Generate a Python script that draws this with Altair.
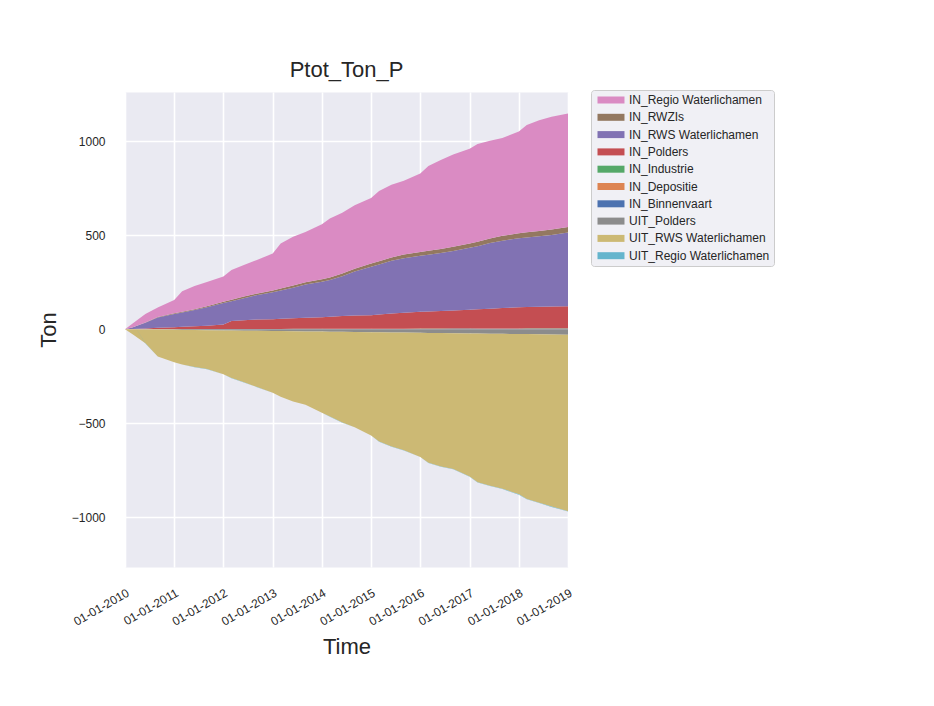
import altair as alt
import pandas as pd

dates = [
    "2010-01-01", "2010-03-01", "2010-06-01", "2010-09-01",
    "2011-01-01", "2011-03-01", "2011-06-01", "2011-09-01",
    "2012-01-01", "2012-03-01", "2012-06-01", "2012-09-01",
    "2013-01-01", "2013-03-01", "2013-06-01", "2013-09-01",
    "2014-01-01", "2014-03-01", "2014-06-01", "2014-09-01",
    "2015-01-01", "2015-03-01", "2015-06-01", "2015-09-01",
    "2016-01-01", "2016-03-01", "2016-06-01", "2016-09-01",
    "2017-01-01", "2017-03-01", "2017-06-01", "2017-09-01",
    "2018-01-01", "2018-03-01", "2018-06-01", "2018-09-01",
    "2019-01-01",
]

in_binnenvaart = [0, 0.0, 0.1, 0.2, 0.3, 0.3, 0.4, 0.5, 0.6, 0.6, 0.7, 0.7, 0.8, 0.9, 0.9, 1.0, 1.1, 1.2, 1.2,
                  1.3, 1.4, 1.4, 1.5, 1.6, 1.7, 1.7, 1.8, 1.9, 1.9, 2.0, 2.1, 2.1, 2.2, 2.3, 2.3, 2.4, 2.5]
in_depositie = [0, 0.0, 0.1, 0.1, 0.2, 0.2, 0.2, 0.3, 0.3, 0.4, 0.4, 0.4, 0.5, 0.5, 0.6, 0.6, 0.7, 0.7, 0.7,
                0.8, 0.8, 0.9, 0.9, 0.9, 1.0, 1.0, 1.1, 1.1, 1.2, 1.2, 1.2, 1.3, 1.3, 1.4, 1.4, 1.4, 1.5]
in_industrie = [0, 0.0, 0.0, 0.1, 0.1, 0.1, 0.2, 0.2, 0.2, 0.2, 0.3, 0.3, 0.3, 0.4, 0.4, 0.4, 0.4, 0.5, 0.5,
                0.5, 0.6, 0.6, 0.6, 0.6, 0.7, 0.7, 0.7, 0.7, 0.8, 0.8, 0.8, 0.9, 0.9, 0.9, 0.9, 1.0, 1.0]
in_polders = [0, 1, 4, 7, 10, 12, 15, 18, 24, 43, 46, 50, 52, 54, 56, 59, 62, 64, 68, 70, 72, 75, 80, 84, 89,
              91, 93, 96, 100, 102, 105, 108, 112, 114, 115, 116, 117]
in_rws = [0, 9, 30, 55, 71, 76, 86, 98, 114, 105, 118, 129, 143, 150, 163, 177, 188, 195, 211, 234, 258, 267,
          281, 291, 299, 302, 309, 317, 329, 336, 349, 359, 367, 370, 375, 381, 392]
in_rwzis = [0, 0.6, 1.4, 2.2, 3.3, 3.9, 4.7, 5.6, 6.7, 7.2, 8.0, 8.9, 10, 10.6, 11.4, 12.2, 13.3, 13.9, 14.7,
            15.6, 16.7, 17.2, 18.0, 18.9, 20, 20.6, 21.4, 22.2, 23.3, 23.9, 24.7, 25.6, 26.7, 27.2, 28.0, 28.9, 30]
in_regio = [0, 21, 45, 51, 71, 110, 123, 129, 134, 159, 168, 178, 196, 239, 259, 267, 293, 314, 323, 337, 348,
            373, 386, 393, 417, 451, 473, 491, 504, 519, 520, 521, 542, 570, 589, 599, 603]
uit_polders = [0, -0.5, -1.3, -2.1, -3.2, -3.7, -4.5, -5.3, -6.4, -6.9, -7.7, -8.5, -9.6, -10.1, -10.9, -11.7,
               -12.8, -13.3, -14.1, -14.9, -16, -16.5, -17.3, -18.1, -19.2, -19.7, -20.5, -21.3, -22.4, -22.9,
               -23.7, -24.5, -25.6, -26.1, -26.9, -27.7, -28.8]
uit_rws = [0, -27, -74, -143, -172, -184, -197, -207, -233, -253, -275, -298, -328, -349, -373, -390, -431,
           -451, -482, -506, -549, -581, -607, -626, -660, -691, -710, -722, -761, -791, -809, -824, -853, -877,
           -896, -916, -939]
uit_regio = [0, 0.0, -0.1, -0.1, -0.2, -0.2, -0.3, -0.3, -0.4, -0.4, -0.5, -0.5, -0.6, -0.6, -0.7, -0.7, -0.8,
             -0.8, -0.9, -0.9, -1.0, -1.0, -1.1, -1.1, -1.2, -1.2, -1.3, -1.3, -1.4, -1.4, -1.5, -1.5, -1.6,
             -1.6, -1.7, -1.7, -1.8]

# stacking order (bottom to top for positives, zero downward for negatives)
stack_names = ["IN_Binnenvaart", "IN_Depositie", "IN_Industrie", "IN_Polders", "IN_RWS Waterlichamen",
               "IN_RWZIs", "IN_Regio Waterlichamen", "UIT_Polders", "UIT_RWS Waterlichamen",
               "UIT_Regio Waterlichamen"]
stack_values = [in_binnenvaart, in_depositie, in_industrie, in_polders, in_rws, in_rwzis, in_regio,
                uit_polders, uit_rws, uit_regio]

legend_order = ["IN_Regio Waterlichamen", "IN_RWZIs", "IN_RWS Waterlichamen", "IN_Polders", "IN_Industrie",
                "IN_Depositie", "IN_Binnenvaart", "UIT_Polders", "UIT_RWS Waterlichamen",
                "UIT_Regio Waterlichamen"]
legend_colors = ["#DA8BC3", "#937860", "#8172B3", "#C44E52", "#55A868", "#DD8452", "#4C72B0", "#8C8C8C",
                 "#CCB974", "#64B5CD"]

tick_years = [2010, 2011, 2012, 2013, 2014, 2015, 2016, 2017, 2018, 2019]
y_ticks = [-1000, -500, 0, 500, 1000]
y_domain = [-1265, 1262]

rows = []
for i, (name, vals) in enumerate(zip(stack_names, stack_values)):
    for d, v in zip(dates, vals):
        rows.append({"date": d, "value": v, "series": name, "order": i})
df = pd.DataFrame(rows)

font = "Liberation Sans"
text_color = "#262626"
# wide flat rectangle swatch (27 x 7 px at size 49), starting at the symbol's left edge
rect_path = "M-1,-1L6.71,-1L6.71,1L-1,1Z"

chart = alt.Chart(df).mark_area(interpolate="linear").encode(
    x=alt.X("date:T",
            title="Time",
            scale=alt.Scale(type="utc",
                            domain=[alt.DateTime(year=2010, month=1, date=1, utc=True),
                                    alt.DateTime(year=2019, month=1, date=1, utc=True)]),
            axis=alt.Axis(values=[alt.DateTime(year=y, month=1, date=1, utc=True) for y in tick_years],
                          format="%d-%m-%Y", labelAngle=-30, labelAlign="right", labelBaseline="top",
                          labelPadding=20, titlePadding=9, labelOverlap=False)),
    y=alt.Y("value:Q", title="Ton", stack="zero",
            scale=alt.Scale(domain=y_domain, nice=False, zero=False),
            axis=alt.Axis(values=y_ticks, format="d", labelPadding=20, titlePadding=11)),
    color=alt.Color("series:N",
                    scale=alt.Scale(domain=legend_order, range=legend_colors),
                    legend=alt.Legend(title=None, orient="none", legendX=466, legendY=-2,
                                      symbolType=rect_path, symbolSize=49, symbolStrokeWidth=0,
                                      labelFont=font, labelFontSize=12, labelColor=text_color,
                                      labelOffset=22, fillColor="#F0F0F5", strokeColor="#CCCCCC",
                                      padding=4, cornerRadius=3, rowPadding=5.3)),
    order=alt.Order("order:Q", sort="ascending"),
).properties(
    width=443,
    height=475,
    autosize=alt.AutoSizeParams(type="none"),
    padding={"left": 117, "top": 84, "right": 300, "bottom": 110},
    title=alt.TitleParams("Ptot_Ton_P", font=font, fontSize=22, fontWeight="normal", color=text_color,
                          anchor="middle", baseline="alphabetic", offset=13, dy=22),
).configure_view(
    fill="#EAEAF2", stroke="transparent"
).configure_axis(
    grid=True, gridColor="white", gridWidth=1.6, domain=False, ticks=False, tickSize=0,
    labelFont=font, labelFontSize=12, labelColor=text_color,
    titleFont=font, titleFontSize=22, titleFontWeight="normal", titleColor=text_color,
)

chart.save("out.html", embed_options={"renderer": "svg", "actions": False})
